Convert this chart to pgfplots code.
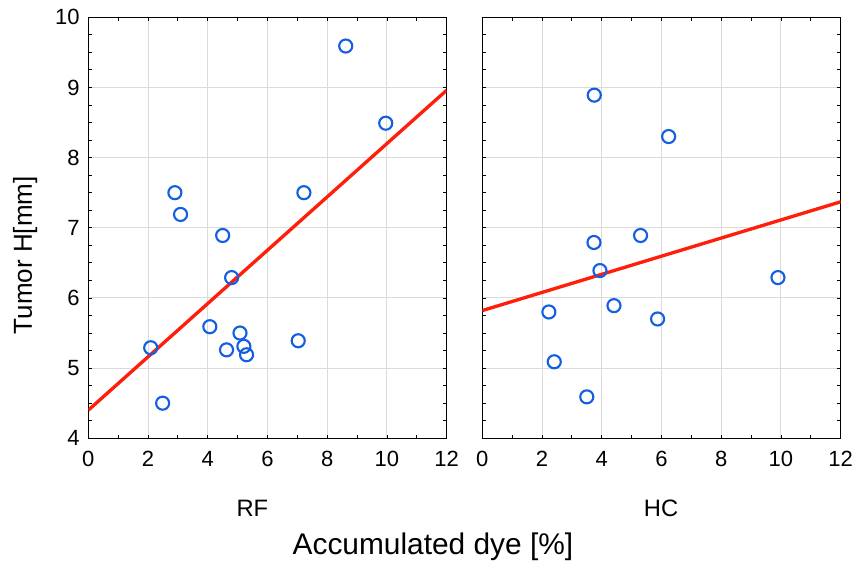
\documentclass[border=0pt]{standalone}
\usepackage{fontspec}
\setmainfont{Liberation Sans}
\usepackage{pgfplots}
\pgfplotsset{compat=1.18}

\definecolor{ptblue}{RGB}{20,95,225}
\definecolor{fitred}{RGB}{255,30,10}
\definecolor{gridgray}{RGB}{218,218,218}

\pgfplotsset{panel/.style={
  scale only axis,width=268.8pt,height=315.75pt,
  xmin=0,xmax=12,ymin=4,ymax=10,
  xtick={0,2,...,12},ytick={4,5,...,10},
  minor x tick num=1,minor y tick num=3,
  tick align=inside,major tick length=2.5pt,minor tick length=2.5pt,
  tick style={black,line width=0.6pt},
  axis line style={black,line width=0.8pt},
  grid=major,major grid style={gridgray,line width=0.7pt},
  /pgf/number format/assume math mode=true,
  ticklabel style={font=\fontsize{16.5}{18}\selectfont},
  xticklabel style={yshift=-6pt},
  yticklabel style={xshift=-3pt},
  xlabel style={font=\fontsize{17.8}{20}\selectfont,anchor=center},
}}

\begin{document}
\begin{tikzpicture}
\path[use as bounding box] (-66.2pt,-93.5pt) rectangle (575.8pt,328.7pt);

\begin{axis}[panel,at={(0,0)},anchor=south west,
  xlabel={RF},xlabel style={at={(axis description cs:0.458,0)},yshift=-52.6pt}]
\addplot[only marks,mark=o,mark size=4.9pt,ptblue,mark options={line width=1.6pt}] coordinates {
(2.09,5.29) (2.49,4.50) (2.90,7.50) (3.09,7.19) (4.07,5.59) (4.50,6.89)
(4.63,5.26) (4.80,6.29) (5.08,5.50) (5.21,5.31) (5.30,5.19) (7.03,5.39)
(7.22,7.50) (8.62,9.59) (9.96,8.49)};
\addplot[fitred,line width=2.5pt] coordinates {(0,4.40) (12,8.96)};
\end{axis}

\begin{axis}[panel,at={(295.5pt,0)},anchor=south west,yticklabels={},
  xlabel={HC},xlabel style={at={(axis description cs:0.499,0)},yshift=-52.6pt}]
\addplot[only marks,mark=o,mark size=4.9pt,ptblue,mark options={line width=1.6pt}] coordinates {
(2.23,5.80) (2.41,5.09) (3.50,4.59) (3.74,6.79) (3.75,8.89) (3.94,6.39)
(4.41,5.89) (5.30,6.89) (5.87,5.70) (6.24,8.30) (9.90,6.29)};
\addplot[fitred,line width=2.5pt] coordinates {(0,5.82) (12,7.37)};
\end{axis}

\node[rotate=90,anchor=base,font=\fontsize{19.5}{22}\selectfont] at (-42.2pt,137.3pt) {Tumor H[mm]};
\node[anchor=base,font=\fontsize{22.4}{26}\selectfont] at (258.5pt,-87.5pt) {Accumulated dye [\%]};
\end{tikzpicture}
\end{document}
